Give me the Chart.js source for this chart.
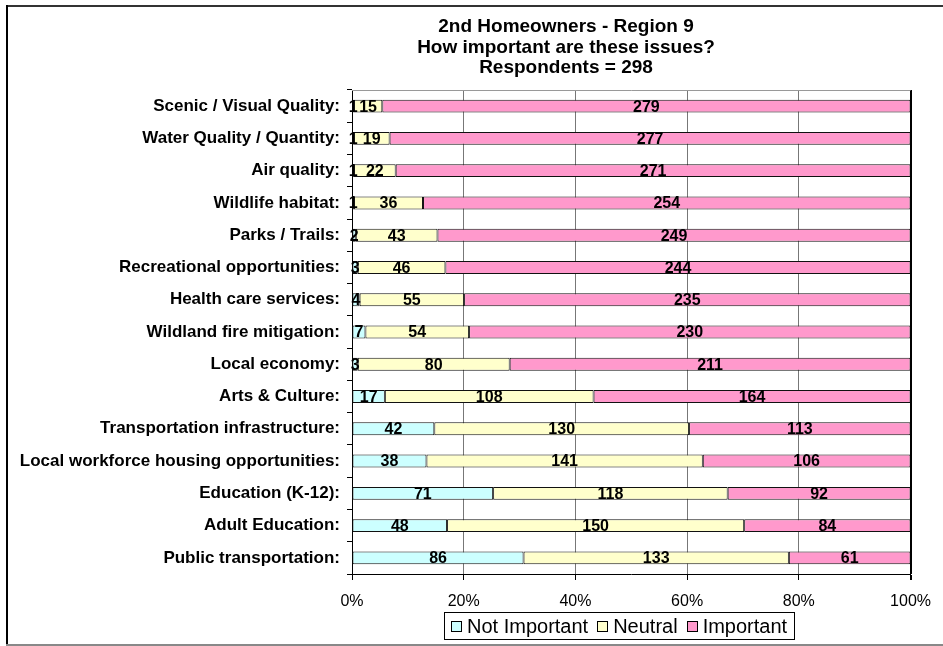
<!DOCTYPE html>
<html>
<head>
<meta charset="utf-8">
<script src="https://cdn.jsdelivr.net/npm/chart.js@4/dist/chart.umd.min.js"></script>
<style>
  html, body { margin: 0; padding: 0; background: #fff; }
  #c { position: absolute; left: 0; top: 0; }
</style>
</head>
<body>
<canvas id="c" width="943" height="646"></canvas>
<script>
const categories = [
  'Scenic / Visual Quality:',
  'Water Quality / Quantity:',
  'Air quality:',
  'Wildlife habitat:',
  'Parks / Trails:',
  'Recreational opportunities:',
  'Health care services:',
  'Wildland fire mitigation:',
  'Local economy:',
  'Arts & Culture:',
  'Transportation infrastructure:',
  'Local workforce housing opportunities:',
  'Education (K-12):',
  'Adult Education:',
  'Public transportation:'
];
const notImportant = [1, 1, 1, 1, 2, 3, 4, 7, 3, 17, 42, 38, 71, 48, 86];
const neutral      = [15, 19, 22, 36, 43, 46, 55, 54, 80, 108, 130, 141, 118, 150, 133];
const important    = [279, 277, 271, 254, 249, 244, 235, 230, 211, 164, 113, 106, 92, 84, 61];
const seriesNames  = ['Not Important', 'Neutral', 'Important'];
const seriesColors = ['#CCFFFF', '#FFFFCC', '#FF99CC'];
const titleLines   = ['2nd Homeowners - Region 9', 'How important are these issues?', 'Respondents = 298'];
const xTicks       = [0, 20, 40, 60, 80, 100];

const FONT = "'Liberation Sans', Arial, Helvetica, sans-serif";
const counts = [notImportant, neutral, important];
const totals = categories.map((_, i) => notImportant[i] + neutral[i] + important[i]);
const pct = arr => arr.map((v, i) => v / totals[i] * 100);

const framePlugin = {
  id: 'frame',
  beforeDraw(chart) {
    const ctx = chart.ctx;
    ctx.save();
    ctx.fillStyle = '#fff';
    ctx.fillRect(0, 0, chart.width, chart.height);
    ctx.fillStyle = '#333';
    ctx.fillRect(7, 5, chart.width - 7, 2);
    ctx.fillStyle = '#000';
    ctx.fillRect(6, 5, 2, chart.height - 6);
    ctx.fillStyle = '#888';
    ctx.fillRect(6, 644, chart.width - 6, 2);
    ctx.restore();
  },
  afterDraw(chart) {
    const ctx = chart.ctx;
    const a = chart.chartArea;
    ctx.save();
    ctx.strokeStyle = '#999';
    ctx.lineWidth = 1;
    ctx.beginPath();
    ctx.moveTo(a.left, a.top + 0.5);
    ctx.lineTo(a.right, a.top + 0.5);
    ctx.stroke();
    ctx.fillStyle = '#000';
    ctx.font = 'bold 19px ' + FONT;
    ctx.textAlign = 'center';
    ctx.textBaseline = 'middle';
    titleLines.forEach((t, i) => ctx.fillText(t, 566, 27 + i * 20.5));
    ctx.font = '20px ' + FONT;
    ctx.textAlign = 'left';
    const sq = 11, gap = 5, itemGap = 9, padX = 7;
    const widths = seriesNames.map(n => ctx.measureText(n).width);
    let total = 0;
    widths.forEach((w, i) => { total += sq + gap + w + (i < widths.length - 1 ? itemGap : 0); });
    const cx = 619;
    const boxL = Math.round(cx - total / 2 - padX);
    const boxR = Math.round(cx + total / 2 + padX);
    ctx.strokeStyle = '#000';
    ctx.lineWidth = 1;
    ctx.strokeRect(boxL + 0.5, 612.5, boxR - boxL, 27);
    let x = boxL + padX;
    seriesNames.forEach((n, i) => {
      ctx.fillStyle = seriesColors[i];
      ctx.fillRect(Math.round(x), 621, sq, sq);
      ctx.strokeStyle = '#000';
      ctx.strokeRect(Math.round(x) + 0.5, 621.5, sq - 1, sq - 1);
      ctx.fillStyle = '#000';
      ctx.fillText(n, x + sq + gap, 627);
      x += sq + gap + widths[i] + itemGap;
    });
    ctx.restore();
  },
  afterDatasetsDraw(chart) {
    const ctx = chart.ctx;
    ctx.save();
    ctx.font = 'bold 16px ' + FONT;
    ctx.fillStyle = '#000';
    ctx.textAlign = 'center';
    ctx.textBaseline = 'middle';
    chart.data.datasets.forEach((ds, di) => {
      const meta = chart.getDatasetMeta(di);
      meta.data.forEach((el, i) => {
        const v = counts[di][i];
        const cxp = (el.x + el.base) / 2;
        ctx.fillText(String(v), cxp, el.y + 1);
      });
    });
    ctx.restore();
  }
};

new Chart(document.getElementById('c'), {
  type: 'bar',
  data: {
    labels: categories,
    datasets: seriesNames.map((n, i) => ({
      label: n,
      data: pct(counts[i]),
      backgroundColor: seriesColors[i],
      borderColor: '#111',
      borderWidth: 1,
      borderSkipped: false,
      categoryPercentage: 1,
      barPercentage: 0.4
    }))
  },
  options: {
    indexAxis: 'y',
    responsive: false,
    animation: false,
    devicePixelRatio: 1,
    layout: { padding: { top: 90, right: 31, left: 0, bottom: 0 } },
    plugins: {
      legend: { display: false },
      title: { display: false },
      tooltip: { enabled: false }
    },
    scales: {
      x: {
        type: 'linear',
        stacked: true,
        min: 0,
        max: 100,
        afterBuildTicks: s => { s.ticks = xTicks.map(v => ({ value: v })); },
        ticks: {
          callback: v => v + '%',
          color: '#000',
          font: { family: FONT, size: 16 },
          padding: 12
        },
        grid: {
          color: c => (c.tick && c.tick.value === 100) ? '#000' : '#777',
          lineWidth: c => (c.tick && c.tick.value === 100) ? 2 : 1,
          tickLength: 6,
          tickColor: '#000'
        },
        border: { display: true, color: '#000', width: 1 },
        afterFit: s => { s.height = 72; }
      },
      y: {
        type: 'category',
        stacked: true,
        offset: true,
        ticks: {
          color: '#000',
          font: { family: FONT, size: 17, weight: 'bold' },
          padding: 7,
          autoSkip: false
        },
        grid: {
          offset: true,
          drawOnChartArea: false,
          tickLength: 5,
          color: '#000'
        },
        border: { display: true, color: '#000', width: 1 },
        afterFit: s => { s.width = 352; }
      }
    }
  },
  plugins: [framePlugin]
});
</script>
</body>
</html>
